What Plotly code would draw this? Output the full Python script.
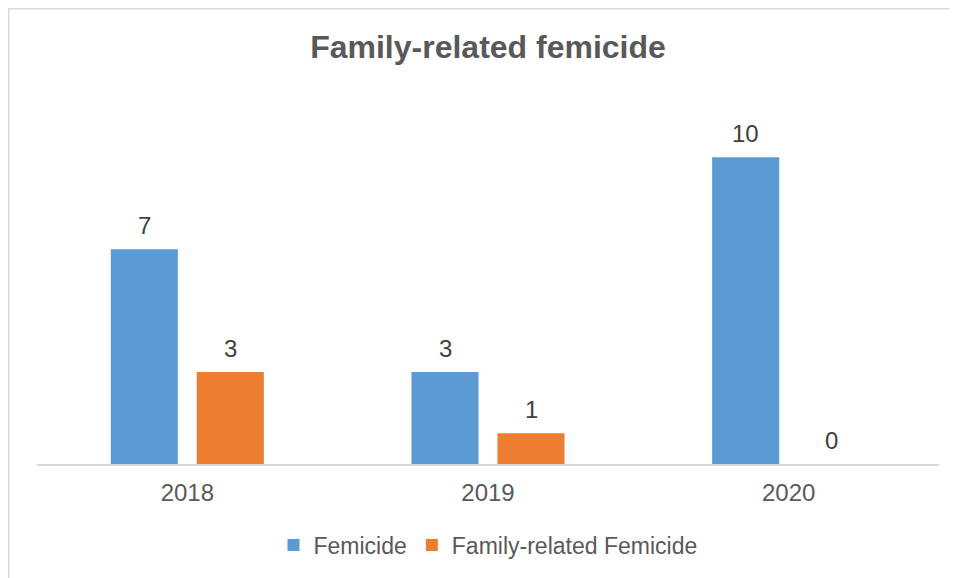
import plotly.graph_objects as go

years = ["2018", "2019", "2020"]
femicide = [7, 3, 10]
family_femicide = [3, 1, 0]

blue = "#5b9bd5"
orange = "#ed7d31"
font = "Liberation Sans, Arial, sans-serif"

# figure is drawn 8px in from the page corner (body margin)
W, H = 949, 570
L, R, T, B = 29, 18, 88, 114
pw, ph = W - L - R, H - T - B


def px_x(x):
    return (x - L) / pw


def px_y(y):
    return (H - B - y) / ph


fig = go.Figure()
fig.add_trace(
    go.Bar(x=years, y=femicide, name="Femicide", marker=dict(color=blue, line_width=0))
)
fig.add_trace(
    go.Bar(
        x=years,
        y=family_femicide,
        name="Family-related Femicide",
        marker=dict(color=orange, line_width=0),
    )
)

# value labels above bars (x given as category index)
for vals, shift in [(femicide, -43), (family_femicide, 43)]:
    for i, v in enumerate(vals):
        fig.add_annotation(
            x=i,
            y=v,
            text=str(v),
            showarrow=False,
            xshift=shift,
            yshift=24,
            font=dict(family=font, size=24, color="#404040"),
        )

# chart border (top and left only visible)
fig.add_shape(
    type="line", xref="paper", yref="paper",
    x0=px_x(0), x1=px_x(W), y0=px_y(0.75), y1=px_y(0.75),
    line=dict(color="#d9d9d9", width=1.5),
)
fig.add_shape(
    type="line", xref="paper", yref="paper",
    x0=px_x(0.75), x1=px_x(0.75), y0=px_y(0), y1=px_y(H),
    line=dict(color="#d9d9d9", width=1.5),
)

fig.update_layout(
    width=W,
    height=H,
    barmode="group",
    bargap=0.428,
    bargroupgap=0.22,
    plot_bgcolor="white",
    paper_bgcolor="white",
    margin=dict(l=L, r=R, t=T, b=B),
    title=dict(
        text="<b>Family-related femicide</b>",
        x=px_x(480),
        xref="paper",
        xanchor="center",
        y=1 - 39 / H,
        yanchor="middle",
        font=dict(family=font, size=32, color="#595959"),
    ),
    xaxis=dict(
        type="category",
        range=[-0.5, len(years) - 0.5],
        showline=True,
        linecolor="#d9d9d9",
        linewidth=1.5,
        ticks="",
        ticklabelstandoff=6,
        tickfont=dict(family=font, size=24, color="#595959"),
    ),
    yaxis=dict(range=[0, 12], visible=False, showgrid=False),
    legend=dict(
        orientation="h",
        x=px_x(480),
        xanchor="center",
        y=px_y(537),
        yanchor="middle",
        font=dict(family=font, size=23, color="#595959"),
        itemwidth=30,
    ),
    showlegend=True,
)

fig.write_html("out.html")
